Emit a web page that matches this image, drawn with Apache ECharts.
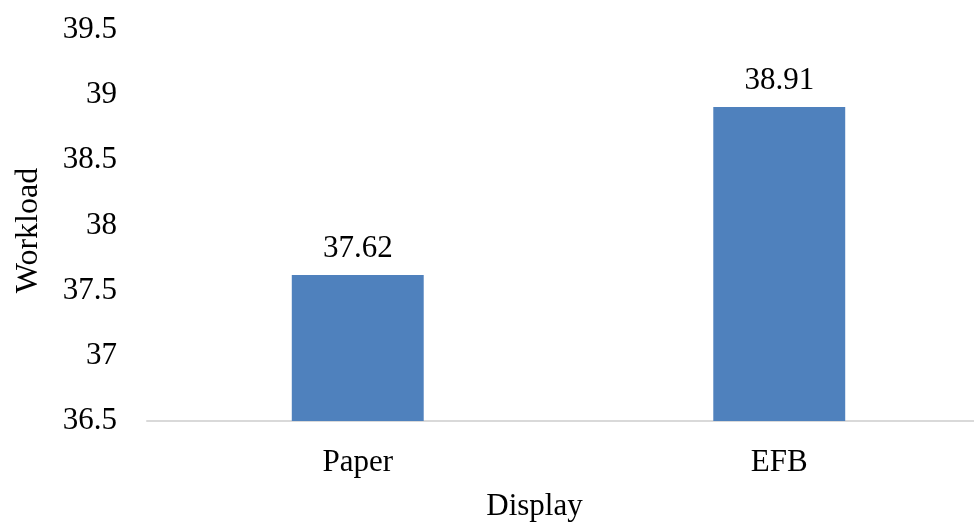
<!DOCTYPE html>
<html>
<head>
<meta charset="utf-8">
<script src="https://cdn.jsdelivr.net/npm/echarts@6/dist/echarts.min.js"></script>
<style>
  html, body { margin: 0; padding: 0; background: #fff; }
  #bar { width: 974px; height: 523px; }
</style>
</head>
<body>
<div id="bar"></div>
<script>
// chart data
var displays = ['Paper', 'EFB'];
var workload = [37.62, 38.91];

var font = '"Liberation Serif", "Times New Roman", serif';

var myBar = echarts.init(document.getElementById('bar'));
var option = {
  animation: false,
  // plot area runs a little past the right edge, like the original
  grid: { left: 147, width: 843, top: 30, bottom: 102, containLabel: false, outerBoundsMode: 'none' },
  xAxis: {
    type: 'category',
    data: displays,
    name: 'Display',
    nameLocation: 'middle',
    nameGap: 70,
    nameTextStyle: { fontFamily: font, fontSize: 31, color: '#000', padding: [0, 68, 0, 0] },
    axisLine: { lineStyle: { color: '#d9d9d9', width: 2 } },
    axisTick: { show: false },
    axisLabel: { fontFamily: font, fontSize: 31, color: '#000', margin: 26 }
  },
  yAxis: {
    type: 'value',
    min: 36.5,
    max: 39.5,
    interval: 0.5,
    name: 'Workload',
    nameLocation: 'middle',
    nameGap: 102,
    nameTextStyle: { fontFamily: font, fontSize: 32, color: '#000', padding: [0, 10, 0, 0] },
    axisLine: { show: false },
    axisTick: { show: false },
    splitLine: { show: false },
    axisLabel: { fontFamily: font, fontSize: 31, color: '#000', margin: 30 }
  },
  series: [{
    type: 'bar',
    data: workload,
    barWidth: '31.3%',
    itemStyle: { color: '#4f81bd' },
    label: {
      show: true,
      position: 'top',
      distance: 11,
      fontFamily: font,
      fontSize: 31,
      color: '#000'
    }
  }]
};
myBar.setOption(option);
</script>
</body>
</html>
